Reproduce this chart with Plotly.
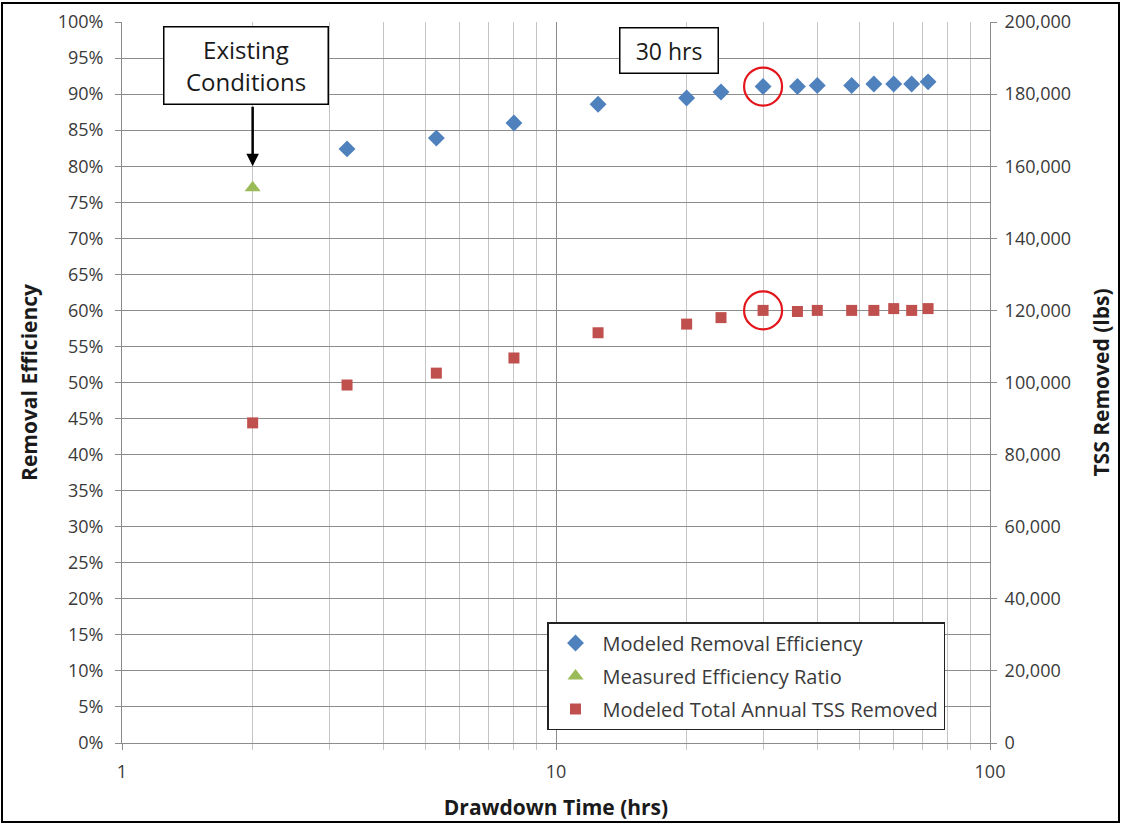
import math
import plotly.graph_objects as go

# Drawdown time (hrs) for the modeled runs
drawdown_hrs = [3.3, 5.3, 8, 12.5, 20, 24, 30, 36, 40, 48, 54, 60, 66, 72]
# Modeled removal efficiency (%)
modeled_eff = [82.4, 83.9, 86.0, 88.6, 89.45, 90.3, 91.05, 91.05, 91.2, 91.2, 91.4, 91.4, 91.4, 91.7]

# Measured efficiency ratio for existing conditions
measured_hrs = [2]
measured_eff = [77.0]

# Modeled total annual TSS removed (lbs)
tss_hrs = [2, 3.3, 5.3, 8, 12.5, 20, 24, 30, 36, 40, 48, 54, 60, 66, 72]
tss_lbs = [88800, 99300, 102600, 106800, 113800, 116200, 118000, 120000, 119700,
           120000, 120000, 120000, 120500, 120000, 120500]

# Selected design point
design_hrs = 30
design_eff = 91.05
design_tss = 120000

left_ticks = list(range(0, 101, 5))
left_labels = [f"{v}%" for v in left_ticks]
right_ticks = list(range(0, 200001, 20000))

FONT = "Open Sans"
BLUE = "#4F81BD"
GREEN = "#9BBB59"
RED = "#C0504D"
GRID = "#8c8c8c"
MINOR_GRID = "#c4c4c4"

W, H = 1122, 824
L, R, T, B = 122, 990, 22, 743


def px_x(p):
    return (p - L) / (R - L)


def px_y(p):
    return (B - p) / (B - T)


fig = go.Figure()

fig.add_trace(go.Scatter(
    x=drawdown_hrs, y=modeled_eff, mode="markers", name="Modeled Removal Efficiency",
    legendgroup="a",
    marker=dict(symbol="diamond", size=13, color=BLUE),
))
fig.add_trace(go.Scatter(
    x=measured_hrs, y=measured_eff, mode="markers", name="Measured Efficiency Ratio",
    legendgroup="b",
    marker=dict(symbol="triangle-up", size=14, color=GREEN),
))
fig.add_trace(go.Scatter(
    x=tss_hrs, y=tss_lbs, mode="markers", name="Modeled Total Annual TSS Removed",
    legendgroup="c", yaxis="y2",
    marker=dict(symbol="square", size=11, color=RED),
))

# Red rings around the 30-hr design point
fig.add_trace(go.Scatter(
    x=[design_hrs], y=[design_eff], mode="markers", showlegend=False,
    marker=dict(symbol="circle-open", size=38, color="#E2151B", line=dict(width=2.2)),
))
fig.add_trace(go.Scatter(
    x=[design_hrs], y=[design_tss], mode="markers", showlegend=False, yaxis="y2",
    marker=dict(symbol="circle-open", size=38, color="#E2151B", line=dict(width=2.2)),
))

tick_font = dict(family=FONT, size=18, color="#3a3a3a")
title_font = dict(family=FONT, size=21, color="#1a1a1a", weight="bold")

fig.update_layout(
    width=W, height=H,
    margin=dict(l=L, r=W - R, t=T, b=H - B, pad=0, autoexpand=False),
    paper_bgcolor="white", plot_bgcolor="white",
    font=dict(family=FONT),
    xaxis=dict(
        type="log", range=[0, 2], automargin=False,
        tickvals=[1, 10, 100], ticktext=["1", "10", "100"],
        showgrid=True, gridcolor=GRID, gridwidth=1,
        ticks="outside", ticklen=6, tickcolor=GRID, ticklabelstandoff=6,
        minor=dict(dtick="D1", showgrid=True, gridcolor=MINOR_GRID, gridwidth=1,
                   ticks="outside", ticklen=6, tickcolor=MINOR_GRID),
        showline=True, linecolor=GRID, linewidth=1, mirror=False,
        tickfont=tick_font,
        title=dict(text="Drawdown Time (hrs)", font=title_font, standoff=18),
        zeroline=False,
    ),
    yaxis=dict(
        range=[0, 100], tickvals=left_ticks, ticktext=left_labels, automargin=False,
        showgrid=True, gridcolor=GRID, gridwidth=1,
        ticks="outside", ticklen=6, tickcolor=GRID, ticklabelstandoff=8,
        showline=True, linecolor=GRID, linewidth=1,
        tickfont=tick_font,
        title=dict(text="Removal Efficiency", font=title_font, standoff=14),
        zeroline=False,
    ),
    yaxis2=dict(
        range=[0, 200000], tickvals=right_ticks, tickformat=",", automargin=False,
        overlaying="y", side="right",
        showgrid=False,
        ticks="outside", ticklen=6, tickcolor=GRID, ticklabelstandoff=4,
        showline=True, linecolor=GRID, linewidth=1,
        tickfont=tick_font,
        title=dict(text="TSS Removed (lbs)", font=title_font, standoff=24),
        zeroline=False,
    ),
    legend=dict(
        x=px_x(547), y=px_y(622), xanchor="left", yanchor="top",
        bgcolor="white", bordercolor="#222222", borderwidth=1.5,
        font=dict(family=FONT, size=20, color="#3a3a3a"),
        tracegroupgap=4, itemwidth=44,
    ),
    showlegend=True,
)

# Callout boxes
fig.add_annotation(
    x=px_x(245.5), y=px_y(66), xref="paper", yref="paper",
    xanchor="center", yanchor="middle",
    text="Existing<br>Conditions", showarrow=False,
    font=dict(family=FONT, size=24, color="#1a1a1a"),
    bgcolor="white", bordercolor="black", borderwidth=1.5,
    width=161, height=74,
)
fig.add_annotation(
    x=math.log10(measured_hrs[0]), y=80.0, xref="x", yref="y",
    text="", showarrow=True,
    ax=0, ay=-61, axref="pixel", ayref="pixel",
    arrowhead=2, arrowsize=1, arrowwidth=2.5, arrowcolor="black",
)
fig.add_annotation(
    x=px_x(668.5), y=px_y(51), xref="paper", yref="paper",
    xanchor="center", yanchor="middle",
    text="30 hrs", showarrow=False,
    font=dict(family=FONT, size=23, color="#1a1a1a"),
    bgcolor="white", bordercolor="black", borderwidth=1.5,
    width=95, height=42,
)

# Outer frame around the whole chart
fig.add_shape(
    type="rect", xref="paper", yref="paper",
    x0=px_x(2), x1=px_x(1119), y0=px_y(822), y1=px_y(3),
    line=dict(color="black", width=2), fillcolor="rgba(0,0,0,0)", layer="above",
)

fig.write_html("out.html")
